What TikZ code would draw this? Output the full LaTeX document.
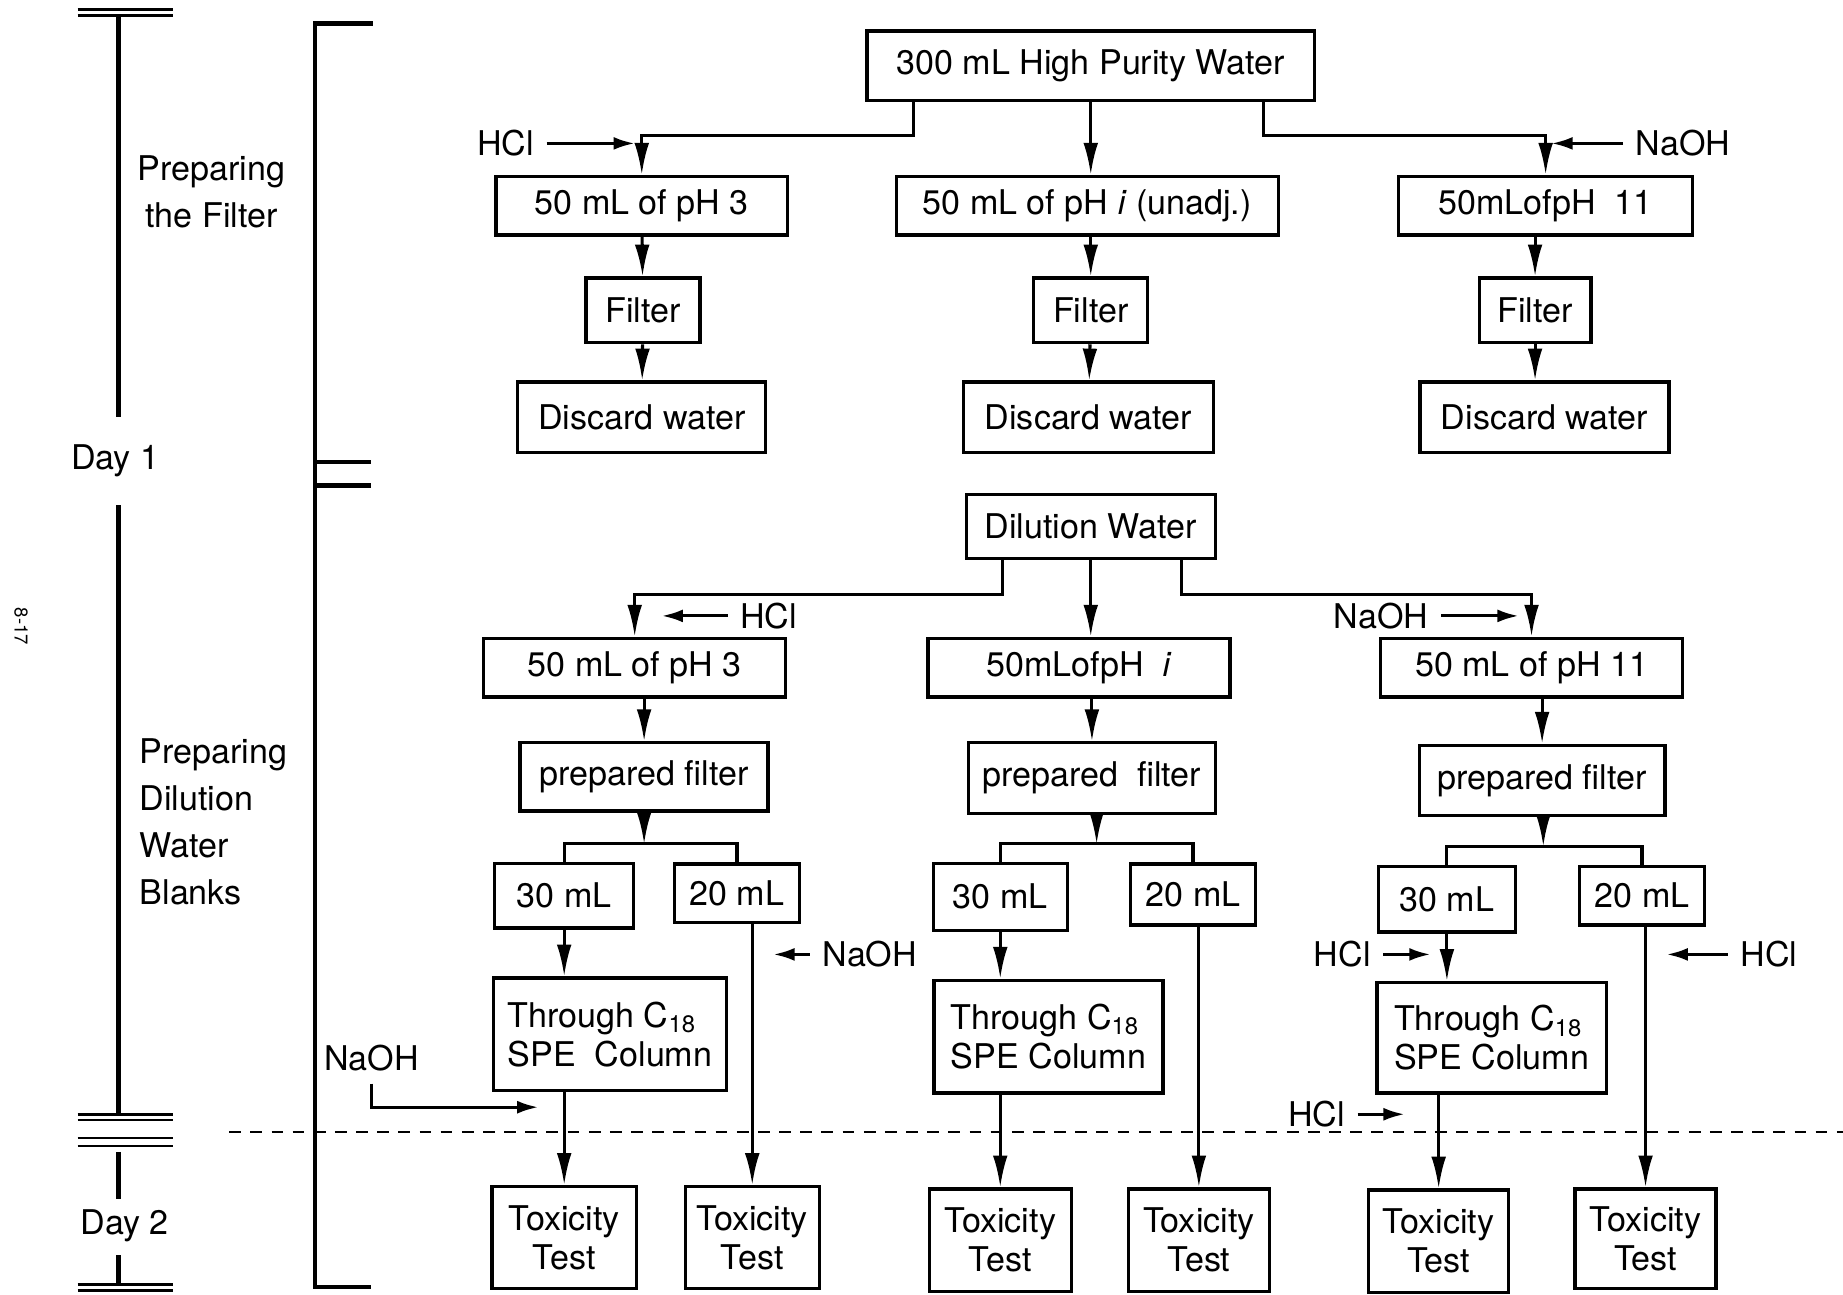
\documentclass[tikz,border=0pt]{standalone}
\usepackage{fontspec}
\setmainfont{TeX Gyre Heros}
\usetikzlibrary{arrows.meta}

\newcommand\boxfont{\fontsize{16.5}{19}\selectfont}
\newcommand\sidefont{\fontsize{16.5}{22.7}\selectfont}

\tikzset{
  box/.style 2 args={draw, line width=1.6pt, inner sep=0pt, font=\boxfont,
    minimum width=#1*0.02cm, minimum height=#2*0.02cm},
  line/.style={line width=1.5pt},
  bar/.style={line width=2.2pt},
  arr/.style={line, -{Latex[length=0.54cm,width=0.25cm]}},
  add/.style={line, -{Latex[length=0.36cm,width=0.22cm]}},
  lbl/.style={font=\sidefont, inner sep=6pt}
}

\begin{document}
\begin{tikzpicture}[x=0.02cm, y=-0.02cm]
  \useasboundingbox (0,0) rectangle (1568,1101);

  \draw[line width=1.2pt] (66,8) -- (147,8) (66,13) -- (147,13);
  \draw[bar] (101,13) -- (101,355);
  \node[lbl, align=center] (stage1) at (180,163) {Preparing\\the Filter};
  \node[lbl] (day1) at (98,392) {Day 1};
  \draw[bar] (101,430) -- (101,948);
  \node[lbl, align=left, anchor=west] (stage2) at (108,699) {Preparing\\Dilution\\Water\\Blanks};
  \draw[line width=1.2pt] (66,948) -- (147,948) (66,953) -- (147,953)
    (66,968) -- (147,968) (66,975) -- (147,975);
  \draw[bar] (101,980) -- (101,1020);
  \node[lbl] (day2) at (106,1043) {Day 2};
  \draw[bar] (101,1068) -- (101,1093);
  \draw[line width=1.2pt] (66,1093) -- (147,1093) (66,1098) -- (147,1098);
  \node[font=\fontsize{9}{10}\selectfont, rotate=-90] (pageno) at (18,533) {8-17};

  \draw[bar] (317,20) -| (268,1095) -- (316,1095);
  \draw[bar] (268,393) -- (316,393) (268,413) -- (316,413);

  \node[box={381}{59}] (water) at (928,56) {300 mL High Purity Water};
  \node[box={248}{50}] (acid1) at (546,175) {50 mL of pH 3};
  \node[box={325}{50}] (neut1) at (925,175) {50 mL of pH \textit{i} (unadj.)};
  \node[box={250}{50}] (base1) at (1315,175) {50mLofpH\ \ 11};
  \node[box={97}{55}] (filtA) at (547,264) {Filter};
  \node[box={97}{55}] (filtN) at (928,264) {Filter};
  \node[box={95}{55}] (filtB) at (1306,264) {Filter};
  \node[box={211}{60}] (discA) at (546,355) {Discard water};
  \node[box={213}{60}] (discN) at (926,355) {Discard water};
  \node[box={212}{60}] (discB) at (1314,355) {Discard water};

  \coordinate (wl) at (777,115);
  \coordinate (wr) at (1075,115);
  \draw[arr] (water.south -| wl) -- (wl) -| (acid1.north);
  \draw[arr] (water.south) -- (water.south |- neut1.north);
  \draw[arr] (water.south -| wr) -- (wr) -| (base1.north);

  \node[lbl] (hcl1) at (430,122) {HCl};
  \coordinate (hcl1t) at (540,122);
  \draw[add] (hcl1) -- (hcl1t);
  \node[lbl] (naoh1) at (1432,122) {NaOH};
  \coordinate (naoh1t) at (1320,122);
  \draw[add] (naoh1) -- (naoh1t);

  \draw[arr] (acid1) -- (filtA);
  \draw[arr] (filtA) -- (discA);
  \draw[arr] (neut1.south -| filtN) -- (filtN);
  \draw[arr] (filtN) -- (discN);
  \draw[arr] (base1.south -| filtB) -- (filtB);
  \draw[arr] (filtB) -- (discB.north -| filtB);

  \node[box={212}{54}] (dil) at (928,448) {Dilution Water};
  \node[box={257}{50}] (acid2) at (540,568) {50 mL of pH 3};
  \node[box={257}{50}] (neut2) at (918,568) {50mLofpH\ \ \textit{i}};
  \node[box={257}{50}] (base2) at (1303,568) {50 mL of pH 11};

  \coordinate (dl) at (853,506);
  \coordinate (dr) at (1005,506);
  \draw[arr] (dil.south -| dl) -- (dl) -| (acid2.north);
  \draw[arr] (dil.south) -- (dil.south |- neut2.north);
  \draw[arr] (dil.south -| dr) -- (dr) -| (base2.north);

  \node[lbl] (hcl2) at (654,524) {HCl};
  \coordinate (hcl2t) at (563,524);
  \draw[add] (hcl2) -- (hcl2t);
  \node[lbl] (naoh2) at (1175,524) {NaOH};
  \coordinate (naoh2t) at (1292,524);
  \draw[add] (naoh2) -- (naoh2t);

  \node[box={211}{58}] (prepA) at (548,661) {prepared filter};
  \node[box={210}{60}] (prepN) at (929,662) {prepared\ \ filter};
  \node[box={209}{60}] (prepB) at (1312,664) {prepared filter};
  \draw[arr] (acid2.south -| prepA) -- (prepA);
  \draw[arr] (neut2.south -| prepN) -- (prepN);
  \draw[arr] (base2.south -| prepB) -- (prepB);

  \node[box={118}{55}] (thirtyA) at (480,762) {30 mL};
  \node[box={106}{50}] (twentyA) at (627,760) {20 mL};
  \node[box={114}{57}] (thirtyN) at (851,763) {30 mL};
  \node[box={106}{52}] (twentyN) at (1015,761) {20 mL};
  \node[box={117}{56}] (thirtyB) at (1231,765) {30 mL};
  \node[box={106}{50}] (twentyB) at (1397,762) {20 mL};

  \coordinate (sA) at (548,718);
  \coordinate (sN) at (933,718);
  \coordinate (sB) at (1313,720);
  \draw[arr] (prepA) -- (sA);
  \draw[line] (thirtyA.north) |- (sA) -| (twentyA.north);
  \draw[arr] (prepN.south -| sN) -- (sN);
  \draw[line] (thirtyN.north) |- (sN) -| (twentyN.north);
  \draw[arr] (prepB.south -| sB) -- (sB);
  \draw[line] (thirtyB.north) |- (sB) -| (twentyB.north);

  \node[box={198}{96}, align=left] (colA) at (519,880) {Through C\textsubscript{18}\\SPE\ \ Column};
  \node[box={195}{96}, align=left] (colN) at (892,882) {Through C\textsubscript{18}\\SPE Column};
  \node[box={195}{94}, align=left] (colB) at (1269,883) {Through C\textsubscript{18}\\SPE Column};
  \draw[arr] (thirtyA.south) -- (thirtyA.south |- colA.north);
  \draw[arr] (thirtyN.south) -- (thirtyN.south |- colN.north);
  \draw[arr] (thirtyB.south) -- (thirtyB.south |- colB.north);

  \node[box={123}{87}, align=center] (toxA1) at (480,1053) {Toxicity\\Test};
  \node[box={114}{87}, align=center] (toxA2) at (640,1053) {Toxicity\\Test};
  \node[box={121}{87}, align=center] (toxN1) at (851,1055) {Toxicity\\Test};
  \node[box={120}{87}, align=center] (toxN2) at (1020,1055) {Toxicity\\Test};
  \node[box={119}{87}, align=center] (toxB1) at (1224,1056) {Toxicity\\Test};
  \node[box={120}{85}, align=center] (toxB2) at (1400,1054) {Toxicity\\Test};

  \draw[arr] (colA.south -| toxA1.north) -- (toxA1.north);
  \draw[arr] (twentyA.south -| toxA2.north) -- (toxA2.north);
  \draw[arr] (colN.south -| toxN1.north) -- (toxN1.north);
  \draw[arr] (twentyN.south -| toxN2.north) -- (toxN2.north);
  \draw[arr] (colB.south -| toxB1.north) -- (toxB1.north);
  \draw[arr] (twentyB.south -| toxB2.north) -- (toxB2.north);

  \node[lbl] (naoh3) at (740,812) {NaOH};
  \coordinate (naoh3t) at (658,812);
  \draw[add] (naoh3) -- (naoh3t);
  \node[lbl] (naoh4) at (316,900) {NaOH};
  \coordinate (naoh4t) at (458,942);
  \draw[add] (naoh4.south) |- (naoh4t);
  \node[lbl] (hcl3) at (1142,812) {HCl};
  \coordinate (hcl3t) at (1217,812);
  \draw[add] (hcl3) -- (hcl3t);
  \node[lbl] (hcl4) at (1120,948) {HCl};
  \coordinate (hcl4t) at (1195,948);
  \draw[add] (hcl4) -- (hcl4t);
  \node[lbl] (hcl5) at (1505,812) {HCl};
  \coordinate (hcl5t) at (1418,812);
  \draw[add] (hcl5) -- (hcl5t);

  \draw[line width=1.3pt, dash pattern=on 0.2cm off 0.16cm] (195,963) -- (1568,963);
\end{tikzpicture}
\end{document}
